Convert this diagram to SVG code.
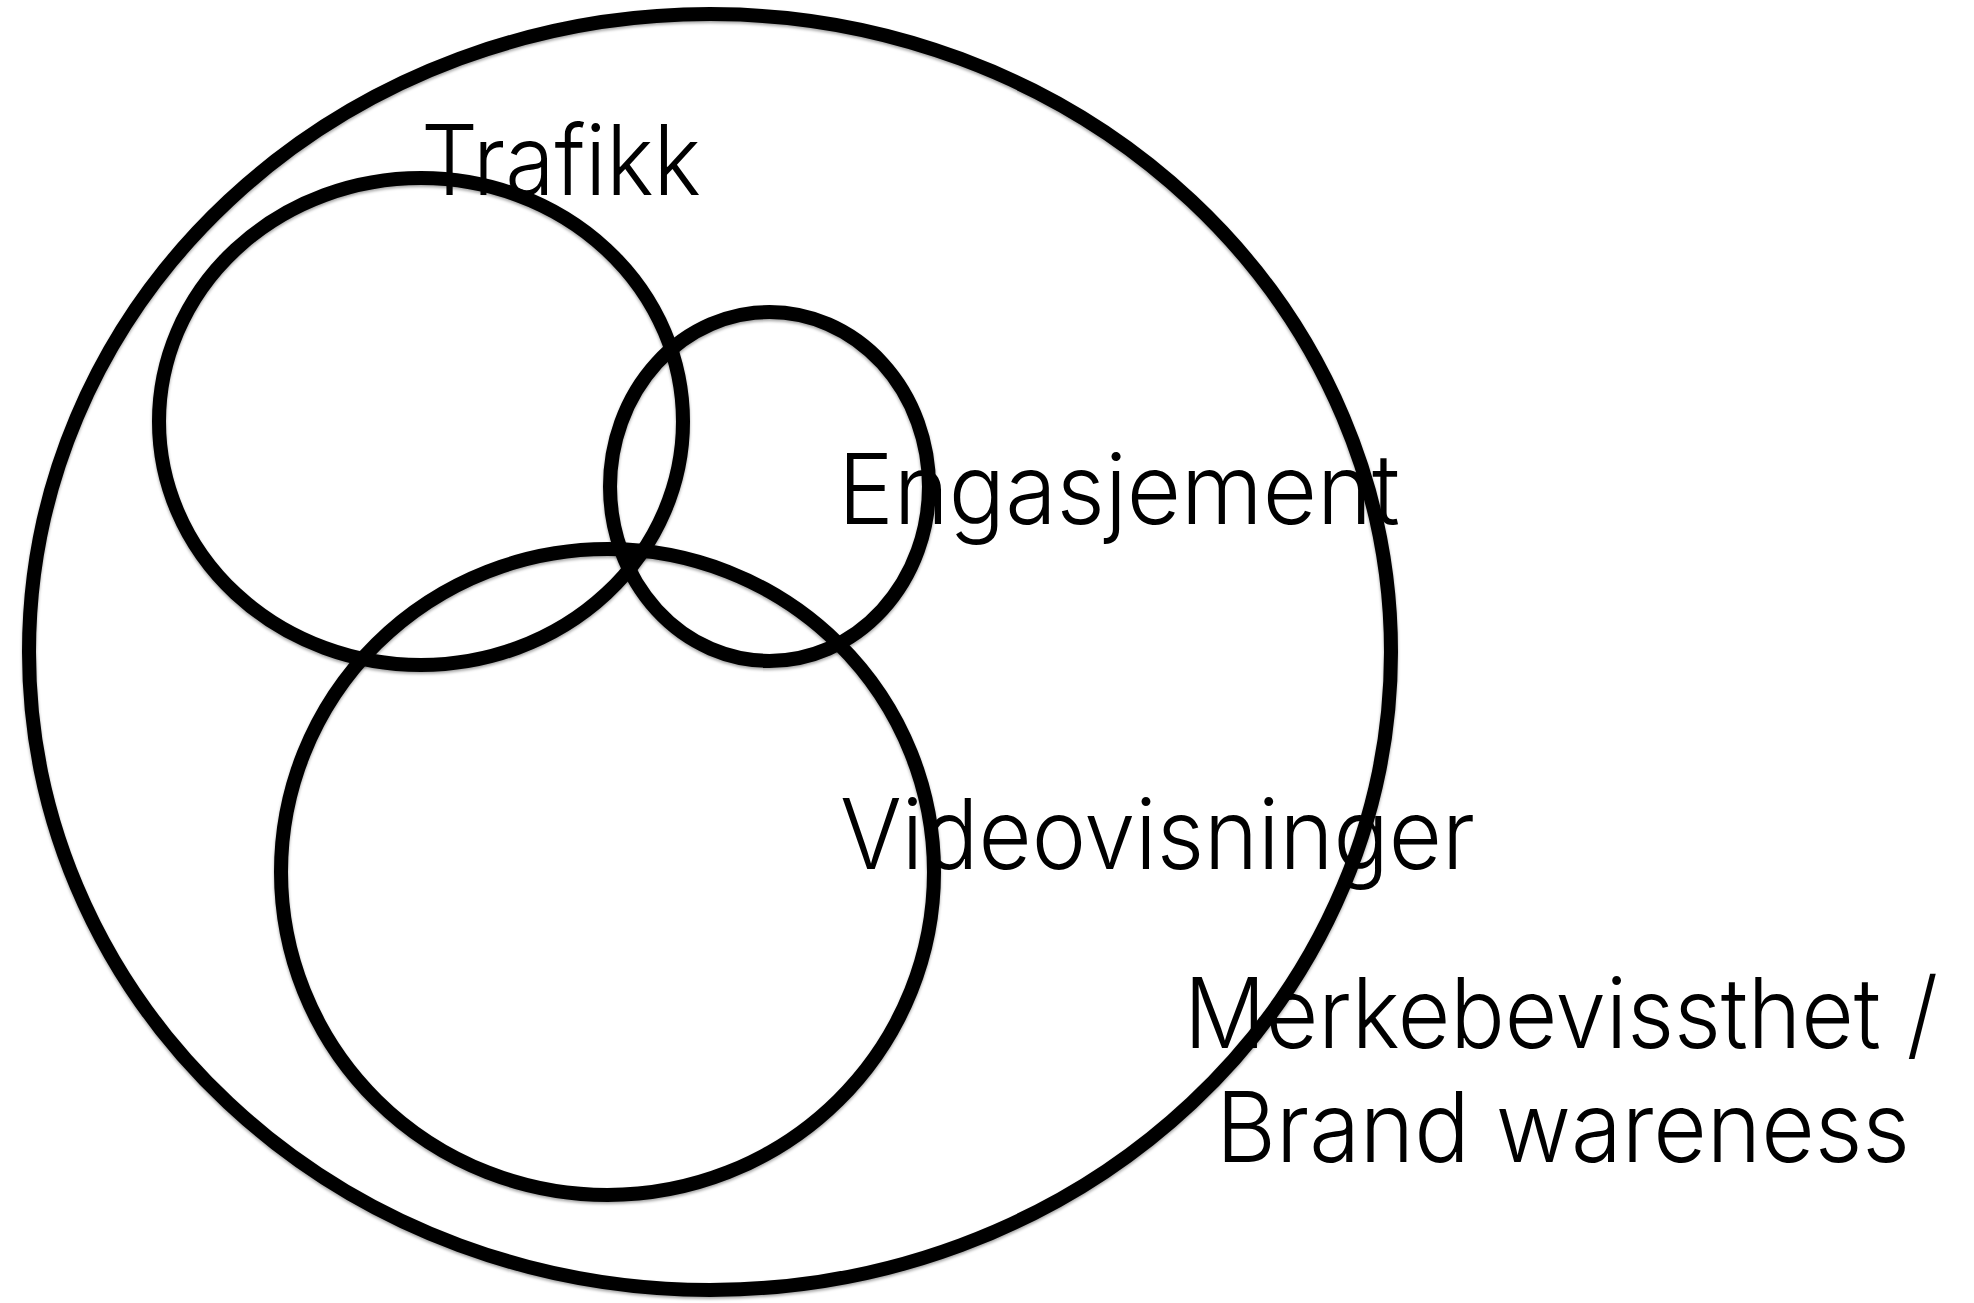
<svg xmlns="http://www.w3.org/2000/svg" width="1974" height="1303" viewBox="0 0 1974 1303">
  <defs>
    <filter id="sh" x="-5%" y="-5%" width="110%" height="110%">
      <feDropShadow dx="0" dy="2" stdDeviation="1.5" flood-color="#000" flood-opacity="0.35"/>
    </filter>
    <style>
      .ring { fill: none; stroke: #000; stroke-width: 14; filter: url(#sh); }
      .lbl { font-family: "Inter", "Roboto", "Liberation Sans", sans-serif; font-weight: 300; font-size: 98px; fill: #000; }
    </style>
  </defs>
  <rect width="1974" height="1303" fill="#fff"/>
  <g id="merkebevissthet">
    <text class="lbl" x="1184" y="1048" textLength="754" lengthAdjust="spacingAndGlyphs">Merkebevissthet /</text>
    <text class="lbl" x="1216" y="1162" textLength="694" lengthAdjust="spacingAndGlyphs">Brand wareness</text>
    <ellipse class="ring" cx="710" cy="652" rx="681" ry="638"/>
  </g>
  <g id="trafikk">
    <text class="lbl" x="421" y="195" textLength="280" lengthAdjust="spacingAndGlyphs">Trafikk</text>
    <ellipse class="ring" cx="421" cy="421.5" rx="262" ry="243.5"/>
  </g>
  <g id="engasjement">
    <text class="lbl" x="838" y="524" textLength="562" lengthAdjust="spacingAndGlyphs">Engasjement</text>
    <ellipse class="ring" cx="769.5" cy="486.5" rx="159.5" ry="174.5"/>
  </g>
  <g id="videovisninger">
    <text class="lbl" x="840" y="869" textLength="635" lengthAdjust="spacingAndGlyphs">Videovisninger</text>
    <ellipse class="ring" cx="607.5" cy="872" rx="326.5" ry="323"/>
  </g>
  <g id="connectors"></g>
</svg>
